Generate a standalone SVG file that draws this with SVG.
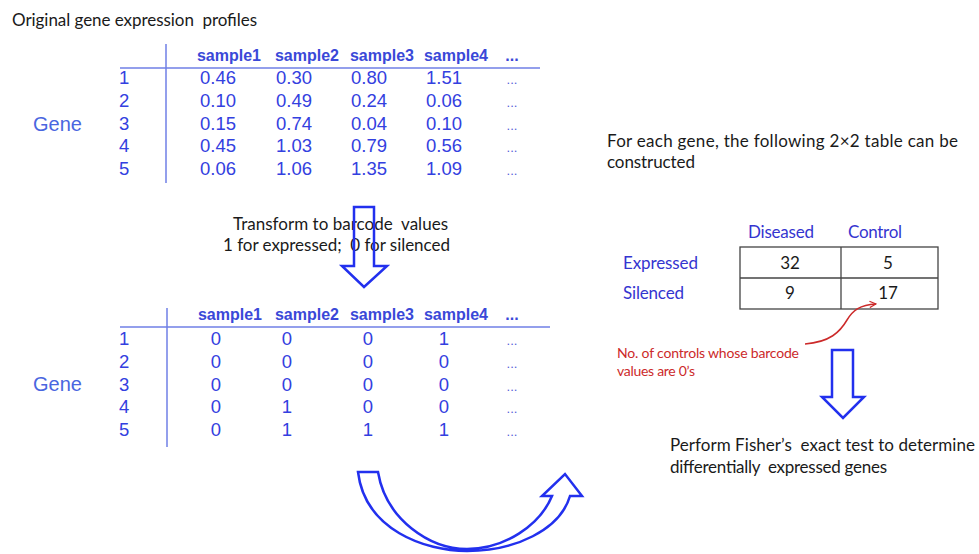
<svg xmlns="http://www.w3.org/2000/svg" width="979" height="554" viewBox="0 0 979 554">
<style>
  .cal { font-family: Lato, "Open Sans", "Liberation Sans", sans-serif; font-size: 17px; fill: #1a1a1a; white-space: pre; }
  .hdr { font-family: "Liberation Sans", Arial, sans-serif; font-weight: bold; font-size: 16px; fill: #3a48d8; text-anchor: middle; }
  .val { font-family: "Liberation Sans", Arial, sans-serif; font-size: 18.5px; fill: #3340e0; text-anchor: middle; }
  .num { font-family: "Liberation Sans", Arial, sans-serif; font-size: 18.5px; fill: #3340e0; }
  .dots { font-family: "Liberation Sans", Arial, sans-serif; font-size: 13px; fill: #5560d8; text-anchor: middle; }
  .gene { font-family: "Liberation Sans", Arial, sans-serif; font-size: 20px; fill: #4a66e0; }
  .tline { stroke: #6f7fe6; stroke-width: 1.5; fill: none; }
  .bluelbl { font-family: Lato, "Open Sans", sans-serif; font-size: 17px; fill: #3535d0; }
  .cell { font-family: Lato, "Open Sans", sans-serif; font-size: 17px; fill: #1a1a1a; text-anchor: middle; }
  .red { font-family: Lato, "Open Sans", sans-serif; font-size: 14px; fill: #cc2a2a; }
  .barrow { fill: none; stroke: #2230ee; stroke-width: 2.5; stroke-linejoin: miter; }
</style>
<defs>
  <marker id="redhead" viewBox="0 0 10 10" refX="9" refY="5" markerWidth="8" markerHeight="8" orient="auto" markerUnits="userSpaceOnUse">
    <path d="M1,1 L9,5 L1,9" fill="none" stroke="#cc2a2a" stroke-width="1.5"/>
  </marker>
</defs>
<rect width="979" height="554" fill="#fff"/>

<g id="title">
  <text class="cal" x="12" y="26" textLength="245">Original gene expression  profiles</text>
</g>

<g id="table-expression">
  <line class="tline" x1="166" y1="44" x2="166" y2="183"/>
  <line class="tline" x1="120" y1="68" x2="540" y2="68"/>
  <text class="hdr" x="229" y="61">sample1</text>
  <text class="hdr" x="307" y="61">sample2</text>
  <text class="hdr" x="382" y="61">sample3</text>
  <text class="hdr" x="456" y="61">sample4</text>
  <text class="hdr" x="512" y="61">...</text>
  <text class="gene" x="33" y="131">Gene</text>
  <text class="num" x="119" y="84">1</text>
  <text class="num" x="119" y="107">2</text>
  <text class="num" x="119" y="130">3</text>
  <text class="num" x="119" y="152">4</text>
  <text class="num" x="119" y="175">5</text>
  <text class="val" x="218" y="84">0.46</text><text class="val" x="294" y="84">0.30</text><text class="val" x="369" y="84">0.80</text><text class="val" x="444" y="84">1.51</text><text class="dots" x="512" y="84">...</text>
  <text class="val" x="218" y="107">0.10</text><text class="val" x="294" y="107">0.49</text><text class="val" x="369" y="107">0.24</text><text class="val" x="444" y="107">0.06</text><text class="dots" x="512" y="107">...</text>
  <text class="val" x="218" y="130">0.15</text><text class="val" x="294" y="130">0.74</text><text class="val" x="369" y="130">0.04</text><text class="val" x="444" y="130">0.10</text><text class="dots" x="512" y="130">...</text>
  <text class="val" x="218" y="152">0.45</text><text class="val" x="294" y="152">1.03</text><text class="val" x="369" y="152">0.79</text><text class="val" x="444" y="152">0.56</text><text class="dots" x="512" y="152">...</text>
  <text class="val" x="218" y="175">0.06</text><text class="val" x="294" y="175">1.06</text><text class="val" x="369" y="175">1.35</text><text class="val" x="444" y="175">1.09</text><text class="dots" x="512" y="175">...</text>
</g>

<g id="transform-label">
  <text class="cal" x="233" y="230" textLength="215">Transform to barcode  values</text>
  <text class="cal" x="223" y="251" textLength="227">1 for expressed;  0 for silenced</text>
</g>

<g id="table-barcode">
  <line class="tline" x1="167" y1="308" x2="167" y2="447"/>
  <line class="tline" x1="120" y1="327" x2="550" y2="327"/>
  <text class="hdr" x="230" y="320">sample1</text>
  <text class="hdr" x="307" y="320">sample2</text>
  <text class="hdr" x="382" y="320">sample3</text>
  <text class="hdr" x="456" y="320">sample4</text>
  <text class="hdr" x="512" y="320">...</text>
  <text class="gene" x="33" y="391">Gene</text>
  <text class="num" x="119" y="345">1</text>
  <text class="num" x="119" y="368">2</text>
  <text class="num" x="119" y="391">3</text>
  <text class="num" x="119" y="413">4</text>
  <text class="num" x="119" y="436">5</text>
  <text class="val" x="216" y="345">0</text><text class="val" x="287" y="345">0</text><text class="val" x="368" y="345">0</text><text class="val" x="444" y="345">1</text><text class="dots" x="512" y="345">...</text>
  <text class="val" x="216" y="368">0</text><text class="val" x="287" y="368">0</text><text class="val" x="368" y="368">0</text><text class="val" x="444" y="368">0</text><text class="dots" x="512" y="368">...</text>
  <text class="val" x="216" y="391">0</text><text class="val" x="287" y="391">0</text><text class="val" x="368" y="391">0</text><text class="val" x="444" y="391">0</text><text class="dots" x="512" y="391">...</text>
  <text class="val" x="216" y="413">0</text><text class="val" x="287" y="413">1</text><text class="val" x="368" y="413">0</text><text class="val" x="444" y="413">0</text><text class="dots" x="512" y="413">...</text>
  <text class="val" x="216" y="436">0</text><text class="val" x="287" y="436">1</text><text class="val" x="368" y="436">1</text><text class="val" x="444" y="436">1</text><text class="dots" x="512" y="436">...</text>
</g>

<g id="table-description">
  <text class="cal" x="607" y="147" textLength="351">For each gene, the following 2×2 table can be</text>
  <text class="cal" x="607" y="168" textLength="88">constructed</text>
</g>

<g id="contingency-table">
  <rect x="740" y="247" width="198" height="62" fill="none" stroke="#444" stroke-width="1.3"/>
  <line x1="841" y1="247" x2="841" y2="309" stroke="#444" stroke-width="1.3"/>
  <line x1="740" y1="278" x2="938" y2="278" stroke="#444" stroke-width="1.3"/>
  <text class="bluelbl" x="748" y="238" textLength="66">Diseased</text>
  <text class="bluelbl" x="848" y="238" textLength="54">Control</text>
  <text class="bluelbl" x="623" y="269" textLength="75">Expressed</text>
  <text class="bluelbl" x="623" y="299" textLength="61">Silenced</text>
  <text class="cell" x="790" y="269">32</text>
  <text class="cell" x="888" y="269">5</text>
  <text class="cell" x="790" y="299">9</text>
  <text class="cell" x="888" y="299">17</text>
</g>

<g id="annotation">
  <text class="red" x="617" y="358" textLength="182">No. of controls whose barcode</text>
  <text class="red" x="617" y="376" textLength="78">values are 0’s</text>
</g>

<g id="fisher-text">
  <text class="cal" x="670" y="451" textLength="305">Perform Fisher’s  exact test to determine</text>
  <text class="cal" x="670" y="473" textLength="217">differentially  expressed genes</text>
</g>

<g id="connectors">
  <path class="barrow" d="M354,207 L374,207 L374,266 L387,266 L364,287 L342,266 L354,266 Z"/>
  <path class="barrow" d="M832,350 L853,350 L853,397 L864,397 L843,418 L822,397 L832,397 Z"/>
  <path class="barrow" d="M358,472 L378,472 C386,520 430,549 467,549 C505,549 540,525 552,496 L542,496 L565,474 L582,496 L570,496 C560,530 515,551 467,551 C425,551 365,530 358,472 Z"/>
  <path d="M805,344 C830,342 840,332 847,320 C853,310 860,305 876,304" fill="none" stroke="#cc2a2a" stroke-width="1.5" marker-end="url(#redhead)"/>
</g>
</svg>
